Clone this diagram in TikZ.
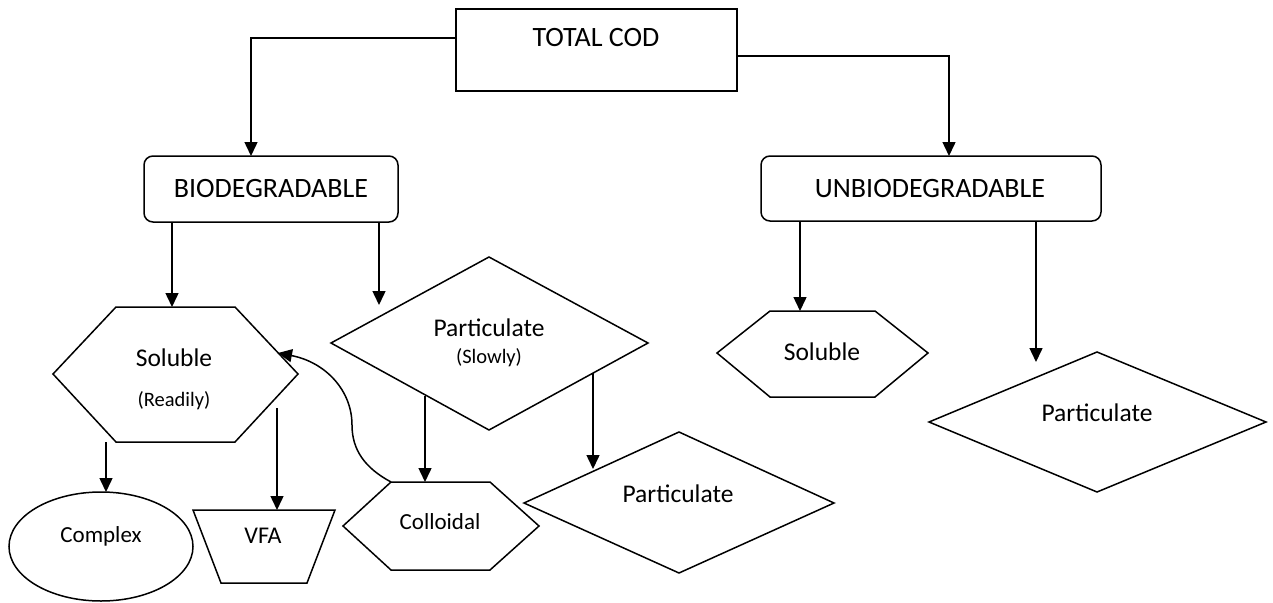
\documentclass[tikz,border=0pt]{standalone}
\usepackage{fontspec}
\setmainfont{Carlito}
\usetikzlibrary{arrows.meta,shapes.geometric}
\begin{document}
\begin{tikzpicture}[x=1pt,y=-1pt,line width=1.5pt,
  arr/.style={-{Triangle[length=14pt,width=13pt]}},
  outline/.style={draw,line join=miter},
  lbl/.style={anchor=base,inner sep=0pt},
  fbig/.style={lbl,font=\fontsize{28}{32}\selectfont},
  fmid/.style={lbl,font=\fontsize{25.5}{30}\selectfont},
  fsm/.style={lbl,font=\fontsize{23}{27}\selectfont},
  fvfa/.style={lbl,font=\fontsize{24}{28}\selectfont},
  ftiny/.style={lbl,font=\fontsize{20.5}{24}\selectfont},
  boxsq/.style={draw,inner sep=0pt},
  boxrd/.style={draw,inner sep=0pt,rounded corners=9pt}]
\useasboundingbox (0,0) rectangle (1273,602);

% ---- top level boxes
\node[boxsq,minimum width=281pt,minimum height=82pt] (total) at (596.5,50) {};
\node[fbig] (totaltxt) at (596,46) {TOTAL COD};
\node[boxrd,minimum width=254pt,minimum height=66pt] (bio) at (271,189) {};
\node[fbig] (biotxt) at (271,197) {BIODEGRADABLE};
\node[boxrd,minimum width=340pt,minimum height=65pt] (unbio) at (931,188.5) {};
\node[fbig] (unbiotxt) at (930,197) {UNBIODEGRADABLE};

% ---- shapes drawn as outlines
% soluble (readily) hexagon
\draw[outline] (53,374) -- (116,307) -- (235,307) -- (298,374) -- (235,442) -- (116,442) -- cycle;
\node[fmid] (soltxt) at (174,366) {Soluble};
\node[ftiny] (readtxt) at (174,406) {(Readily)};
% particulate (slowly) diamond
\draw[outline] (331,343) -- (489,257) -- (648,343) -- (489,430) -- cycle;
\node[fmid] (parttxt) at (489,336) {Particulate};
\node[ftiny] (slowtxt) at (489,363) {(Slowly)};
% complex ellipse
\node[draw,ellipse,inner sep=0pt,minimum width=184pt,minimum height=109pt] (complex) at (101,546.5) {};
\node[fsm] (complextxt) at (101,542) {Complex};
% VFA trapezium
\draw[outline] (193,510) -- (335,510) -- (307,583) -- (221,583) -- cycle;
\node[fvfa] (vfatxt) at (263,543) {VFA};
% colloidal hexagon
\draw[outline] (343,526) -- (391,482) -- (490,482) -- (539,526) -- (490,570) -- (391,570) -- cycle;
\node[fsm] (coltxt) at (440,529) {Colloidal};
% particulate diamond (biodegradable)
\draw[outline] (524,503) -- (679,432) -- (834,503) -- (679,573) -- cycle;
\node[fmid] (part2txt) at (678,502) {Particulate};
% soluble hexagon (unbiodegradable)
\draw[outline] (717,353) -- (770,311) -- (875,311) -- (928,353) -- (875,397) -- (770,397) -- cycle;
\node[fmid] (sol2txt) at (822,360) {Soluble};
% particulate diamond (unbiodegradable)
\draw[outline] (929,422) -- (1097,352) -- (1266,422) -- (1097,492) -- cycle;
\node[fmid] (part3txt) at (1097,421) {Particulate};

% ---- connector end points
\coordinate (tL) at (456,38);
\coordinate (tR) at (737,56);
\coordinate (bioIn) at (251,156);
\coordinate (unIn) at (949,156);
\coordinate (bioA) at (172,222);
\coordinate (solIn) at (172,307);
\coordinate (bioB) at (379,222);
\coordinate (partIn) at (379,305);
\coordinate (solA) at (106,442);
\coordinate (complexIn) at (106,492);
\coordinate (solB) at (277,408);
\coordinate (vfaIn) at (277,510);
\coordinate (partA) at (425,396);
\coordinate (colIn) at (425,482);
\coordinate (partB) at (593,373);
\coordinate (part2In) at (593,469);
\coordinate (colOut) at (391,482);
\coordinate (curveMid) at (352,425);
\coordinate (solSide) at (278,353);
\coordinate (unA) at (800,221);
\coordinate (sol2In) at (800,311);
\coordinate (unB) at (1036,221);
\coordinate (part3In) at (1036,362);

% ---- connectors
\draw[arr] (tL) -| (bioIn);
\draw[arr] (tR) -| (unIn);
\draw[arr] (bioA) -- (solIn);
\draw[arr] (bioB) -- (partIn);
\draw[arr] (solA) -- (complexIn);
\draw[arr] (solB) -- (vfaIn);
\draw[arr] (partA) -- (colIn);
\draw[arr] (partB) -- (part2In);
\draw[arr] (colOut) .. controls (365,468) and (352,450) .. (curveMid)
  .. controls (352,390) and (325,362) .. (solSide);
\draw[arr] (unA) -- (sol2In);
\draw[arr] (unB) -- (part3In);
\end{tikzpicture}
\end{document}
